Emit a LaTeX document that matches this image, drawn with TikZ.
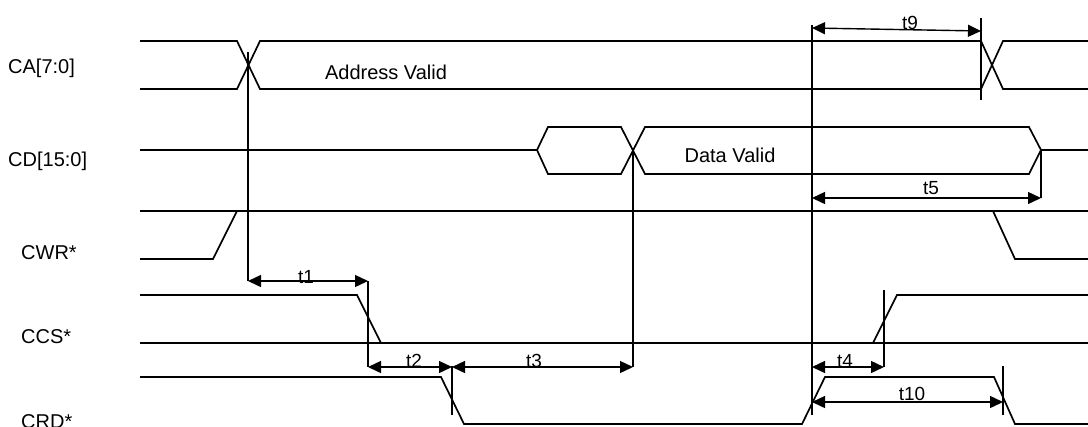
\documentclass[tikz,border=0pt]{standalone}
\usepackage{fontspec}
\setmainfont{Liberation Sans}
\usetikzlibrary{arrows.meta}

\tikzset{
  sig/.style={line width=1.7bp},
  dim/.style={line width=1.4bp, {Triangle[length=13bp,width=12bp]}-{Triangle[length=13bp,width=12bp]}},
  rowlabel/.style={anchor=base west, inner sep=0pt, font=\fontsize{20bp}{24bp}\selectfont},
  bandtext/.style={inner sep=0pt, font=\fontsize{20bp}{24bp}\selectfont},
  tlabel/.style={anchor=base, inner sep=0pt, font=\fontsize{19bp}{22bp}\selectfont},
}

\begin{document}
\begin{tikzpicture}[x=1bp,y=-1bp]
		\useasboundingbox (0,0) rectangle (1088,426);
		
		%signal names
		\node[rowlabel] (ca)  at (8,73)   {CA[7:0]};
		\node[rowlabel] (cd)  at (8,166)  {CD[15:0]};
		\node[rowlabel] (cwr) at (21,259) {CWR*};
		\node[rowlabel] (ccs) at (21,343) {CCS*};
		\node[rowlabel] (crd) at (21,428) {CRD*};
		
		%CA[7:0]
		\draw[sig] (140,41) -- (237,41) -- (260,89) -- (981,89) -- (1003,41) -- (1088,41);
		\draw[sig] (140,89) -- (237,89) -- (260,41) -- (981,41) -- (1003,89) -- (1088,89);
		\node[bandtext] (addr) at (386,72) {Address Valid};
		
		%CD[15:0]
		\draw[sig] (140,150) -- (537,150) -- (548,127) -- (621,127) -- (645,174) -- (1029,174) -- (1041,150) -- (1088,150);
		\draw[sig] (537,150) -- (548,174) -- (621,174) -- (645,127) -- (1029,127) -- (1041,150);
		\node[bandtext] (data) at (730,155) {Data Valid};
		
		%CWR*
		\draw[sig] (140,211) -- (1088,211);
		\draw[sig] (140,259) -- (213,259) -- (237,211);
		\draw[sig] (993,211) -- (1015,259) -- (1088,259);
		
		%CCS*
		\draw[sig] (140,295) -- (357,295) -- (381,343);
		\draw[sig] (140,343) -- (1088,343);
		\draw[sig] (873,343) -- (897,295) -- (1088,295);
		
		%CRD*
		\draw[sig] (140,377) -- (441,377) -- (464,424) -- (802,424) -- (825,377) -- (994,377) -- (1015,424) -- (1088,424);
		
		%reference lines
		\draw[sig] (248,52) -- (248,281);
		\draw[sig] (368,281) -- (368,367);
		\draw[sig] (452,366) -- (452,415);
		\draw[sig] (633,150) -- (633,367);
		\draw[sig] (812,25) -- (812,415);
		\draw[sig] (981,18) -- (981,100);
		\draw[sig] (1041,150) -- (1041,198);
		\draw[sig] (884,290) -- (884,367);
		\draw[sig] (1003,366) -- (1003,415);
		
		%timings
		\draw[dim] (248,281) -- (368,281);
		\node[tlabel] (t1) at (306,283) {t1};
		\draw[dim] (368,367) -- (452,367);
		\node[tlabel] (t2) at (414,367) {t2};
		\draw[dim] (452,367) -- (633,367);
		\node[tlabel] (t3) at (534,367) {t3};
		\draw[dim] (812,367) -- (884,367);
		\node[tlabel] (t4) at (845,367) {t4};
		\draw[dim] (812,198) -- (1041,198);
		\node[tlabel] (t5) at (931,194) {t5};
		\draw[dim] (812,28) -- (981,31);
		\node[tlabel] (t9) at (910,29) {t9};
		\draw[dim] (812,402) -- (1003,402);
		\node[tlabel] (t10) at (912,400) {t10};
\end{tikzpicture}
\end{document}
